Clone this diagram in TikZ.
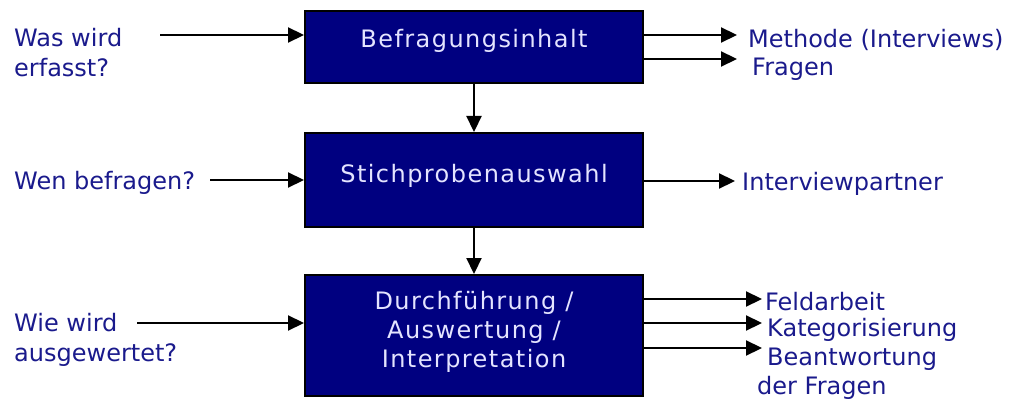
\documentclass[tikz,border=0pt]{standalone}
\usepackage{fontspec}
\setmainfont{DejaVu Sans}
\newfontfamily\boxfont[LetterSpace=6]{DejaVu Sans}
\usetikzlibrary{arrows.meta}
\definecolor{navy}{HTML}{000080}
\definecolor{txtblue}{HTML}{1A1A8C}
\definecolor{boxtxt}{HTML}{E4E4FF}
\tikzset{
  x=1pt, y=-1pt,
  box/.style={draw=black, line width=2pt, fill=navy, minimum width=338pt, inner sep=0pt},
  boxlabel/.style={text=boxtxt, font=\boxfont\fontsize{24}{29}\selectfont, align=center, inner sep=0pt},
  lbl/.style={text=txtblue, font=\fontsize{24}{30}\selectfont, anchor=west, align=left, inner sep=0pt},
  arr/.style={line width=2.2pt, -{Triangle[length=16pt,width=15pt]}},
}
\begin{document}
\begin{tikzpicture}
\useasboundingbox (0,0) rectangle (1010,401);
\node[box, minimum height=72pt] (b1) at (474,47) {};
\node[box, minimum height=94pt] (b2) at (474,180) {};
\node[box, minimum height=121pt] (b3) at (474,335.5) {};
\node[boxlabel] (t1) at (474,41) {Befragungsinhalt};
\node[boxlabel] (t2) at (474,176) {Stichprobenauswahl};
\node[boxlabel] (t3) at (474,332) {Durchführung /\\Auswertung /\\Interpretation};

\node[lbl] (q1) at (14,53) {Was wird\\erfasst?};
\node[lbl] (q2) at (14,183) {Wen befragen?};
\node[lbl] (q3) at (14,340) {Wie wird\\ausgewertet?};

\coordinate (q1e) at (160,35);
\coordinate (q2e) at (210,180);
\coordinate (q3e) at (137,323);
\draw[arr] (q1e) -- (q1e -| b1.west);
\draw[arr] (q2e) -- (q2e -| b2.west);
\draw[arr] (q3e) -- (q3e -| b3.west);

\draw[arr] (b1.south) -- (b2.north);
\draw[arr] (b2.south) -- (b3.north);

\node[lbl] (r1) at (748,40) {Methode (Interviews)};
\node[lbl] (r2) at (752,69) {Fragen};
\node[lbl] (r3) at (742,184) {Interviewpartner};
\node[lbl] (r4) at (765,302) {Feldarbeit};
\node[lbl] (r5) at (767,330) {Kategorisierung};
\node[lbl] (r6) at (767,359) {Beantwortung};
\node[lbl] (r7) at (757,388) {der Fragen};

\coordinate (a1) at (737,35);
\coordinate (a2) at (737,59);
\coordinate (a3) at (735,181);
\coordinate (a4) at (762,299);
\coordinate (a5) at (762,323);
\coordinate (a6) at (762,348);
\draw[arr] (a1 -| b1.east) -- (a1);
\draw[arr] (a2 -| b1.east) -- (a2);
\draw[arr] (a3 -| b2.east) -- (a3);
\draw[arr] (a4 -| b3.east) -- (a4);
\draw[arr] (a5 -| b3.east) -- (a5);
\draw[arr] (a6 -| b3.east) -- (a6);
\end{tikzpicture}
\end{document}
